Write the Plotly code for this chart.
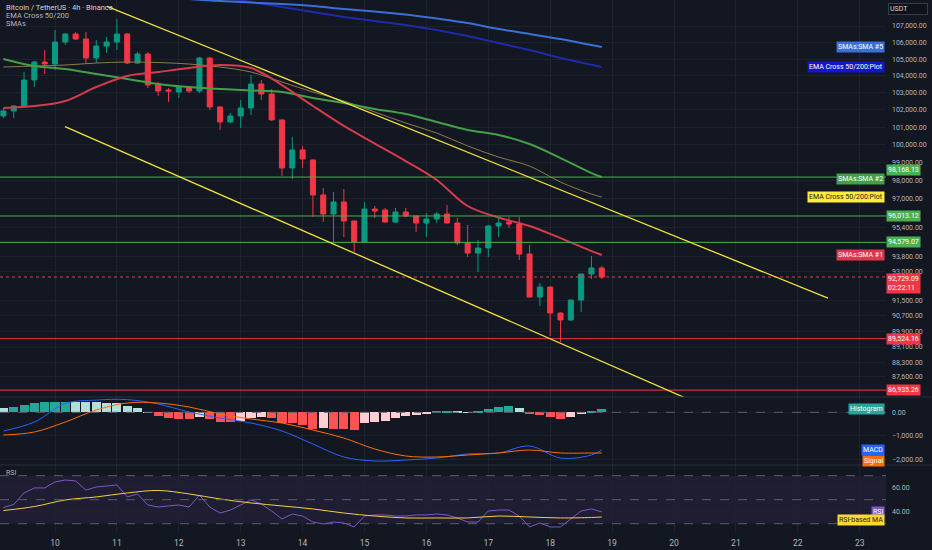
import math
import pandas as pd
import plotly.graph_objects as go
from plotly.subplots import make_subplots

# 4h candles, BTCUSDT (Binance)
times = pd.date_range("2025-11-09 04:00", periods=59, freq="4h")

opens = [101650, 101940, 102231, 103755, 104825, 104706, 106027, 106513, 106209, 105064,
         105786, 106027, 106513, 104765, 105304, 103459, 103166, 103048, 103342, 103107,
         105064, 102173, 101303, 101650, 102115, 103518, 102931, 101419, 98679, 99699,
         99131, 97169, 96121, 96782, 95738, 94598, 96395, 96341, 95684, 96231,
         96011, 95629, 95847, 96121, 95629, 94544, 94006, 94274, 95466, 95684,
         95575, 93952, 91676, 92200, 90843, 90481, 91519, 92887, 93206]
highs = [102115, 102290, 104229, 104885, 105545, 106756, 106573, 106634, 106634, 106149,
         106330, 107428, 106573, 105425, 105425, 103637, 103283, 103459, 103400, 105124,
         105124, 102200, 101824, 102581, 104051, 103755, 103224, 101450, 100441, 99927,
         99160, 97557, 97335, 97502, 95760, 96782, 96561, 96451, 96451, 96451,
         96040, 96176, 96231, 96613, 95902, 95520, 94706, 95520, 95902, 95956,
         95956, 94436, 92411, 92230, 90870, 91540, 92900, 93845, 93311]
lows = [101534, 101534, 102115, 103342, 104110, 104349, 105847, 106149, 104706, 104765,
        105365, 105545, 104706, 104706, 103283, 102814, 102464, 102697, 102990, 102990,
        101998, 100842, 101245, 100957, 101708, 102581, 101361, 98228, 98060, 98679,
        95956, 95684, 94598, 94867, 94059, 94598, 95902, 95650, 95629, 95956,
        95139, 94867, 95629, 95600, 94436, 93792, 92993, 93792, 94867, 95357,
        93632, 91650, 91206, 89660, 89354, 90450, 90894, 92621, 92621]
closes = [101940, 102231, 103755, 104825, 104706, 106027, 106513, 106209, 105064, 105786,
          106027, 106513, 104765, 105304, 103459, 103107, 103107, 103342, 103107, 105064,
          102173, 101303, 101650, 102115, 103518, 102931, 101419, 98679, 99699, 99188,
          97169, 96121, 96782, 95738, 94598, 96395, 96286, 95684, 96231, 96011,
          95629, 95847, 96121, 95629, 94544, 94006, 94274, 95466, 95629, 95575,
          93952, 91676, 92200, 90843, 90481, 91519, 92887, 93206, 92729.09]

# moving averages read every third candle
ma_idx = list(range(0, 58, 3)) + [58]
sma1 = [102115, 102231, 102523, 103342, 103992, 104229, 104467, 104647, 104467, 103459, 102231,
        101072, 100062, 99069, 98001, 96561, 95929, 95466, 94812, 94111, 93898]
sma2 = [105004, 104586, 104407, 104110, 103814, 103518, 103342, 103224, 103137, 103048, 102697,
        102402, 102053, 101762, 101303, 100842, 100549, 100034, 99239, 98393, 98172]
ema50 = [104526, 104586, 104647, 104765, 104825, 104795, 104706, 104526, 104229, 103637, 103048,
         102523, 101878, 101240, 100664, 99927, 99295, 98787, 97889, 97221, 97055]
blue_idx = list(range(18, 58, 3)) + [58]
sma5 = [108661, 108537, 108445, 108352, 108228, 108043, 107889, 107704, 107459, 107183,
        106817, 106513, 106209, 105847, 105726]
ema200 = [109095, 108785, 108476, 108166, 107827, 107551, 107306, 107061, 106756, 106392,
          105967, 105545, 105064, 104647, 104526]

hist = [170, 213, 311, 400, 430, 445, 455, 452, 450, 445,
        409, 383, 268, 170, 10, -157, -255, -285, -298, -187,
        -285, -400, -405, -357, -255, -187, -255, -442, -468, -540,
        -700, -652, -723, -730, -752, -468, -425, -369, -255, -156,
        -113, -71, 71, 75, 28, 5, 14, 128, 213, 270,
        170, -71, -113, -213, -284, -184, -71, 71, 142]
macd = [-796, -413, 374, 520, 540, 353, 13, -243, -455, -796, -1349,
        -1902, -2072, -2030, -1944, -1774, -1731, -1434, -1944, -1817, -1604]
signal = [-966, -838, -413, 98, 396, 396, 226, -72, -285, -455, -753,
          -1094, -1562, -1859, -1902, -1817, -1731, -1604, -1731, -1731, -1731]

rsi = [43.5, 46, 55.6, 59.8, 59.8, 64.8, 66.4, 65.6, 58, 60.6,
       61.4, 62.3, 52.3, 54.8, 45.6, 43.9, 44.8, 45.6, 43.9, 53.9,
       43.9, 38.9, 41.4, 45.6, 49.8, 46.4, 40.6, 34, 38.1, 36.4,
       31.4, 29.8, 31.4, 30.6, 27.3, 36.4, 37.3, 37.3, 36.4, 36.4,
       37.3, 37.3, 38.1, 37.3, 34.8, 31.4, 31.4, 40.6, 41.4, 41.4,
       36.4, 27.3, 30.6, 27.3, 27.3, 34, 40.6, 42.3, 39.8]
rsi_ma = [41, 44.3, 49.8, 52.3, 55.6, 57.7, 54.8, 50.6, 47.3, 44.8, 42.3,
          38.9, 36.4, 34.8, 34.8, 34.8, 36.4, 35.6, 34.8, 35.2, 35.6]

levels_green = [98168.13, 96013.12, 94579.07]
levels_red = [89524.16, 86935.26]
last_price = 92729.09
countdown = "02:22:11"

upper_x = ["2025-11-10 20:10", "2025-11-22 11:43"]
upper_y = [108210, 91620]
lower_x = ["2025-11-10 03:53", "2025-11-20 06:12"]
lower_y = [101030, 86450]

# ticks hidden under the level tags (96,200 / 94,600 / 92,200) left out
price_ticks = [107000, 106000, 105000, 104000, 103000, 102000, 101000, 100000, 99000, 98000,
               97000, 95400, 93800, 93000, 91500, 90700, 89900,
               89100, 88300, 87600]
day_ticks = list(range(10, 24))

bg = "#131722"
grid = "#1e222d"
txt = "#b2b5be"
up = "#089981"
down = "#f23645"
font = "Roboto"

base = pd.Timestamp("2025-11-10")
x_start = base - pd.Timedelta(days=55 / 61.9)
x_end = base + pd.Timedelta(days=831 / 61.9)

fig = make_subplots(rows=3, cols=1, shared_xaxes=True, vertical_spacing=0,
                    row_heights=[397, 68, 67])

fig.add_trace(go.Candlestick(
    x=times, open=opens, high=highs, low=lows, close=closes,
    increasing=dict(line=dict(color=up, width=1), fillcolor=up),
    decreasing=dict(line=dict(color=down, width=1), fillcolor=down),
    whiskerwidth=0, showlegend=False, hoverinfo="skip"), row=1, col=1)

ma_t = [times[i] for i in ma_idx]
blue_t = [times[i] for i in blue_idx]
fig.add_trace(go.Scatter(x=blue_t, y=ema200, mode="lines", line=dict(color="#1f2ba6", width=2)), row=1, col=1)
fig.add_trace(go.Scatter(x=blue_t, y=sma5, mode="lines", line=dict(color="#3b6fd8", width=2), line_shape="spline"), row=1, col=1)
fig.add_trace(go.Scatter(x=ma_t, y=ema50, mode="lines", line=dict(color="#8c7b4a", width=1), line_shape="spline"), row=1, col=1)
fig.add_trace(go.Scatter(x=ma_t, y=sma2, mode="lines", line=dict(color="#43a047", width=2), line_shape="spline"), row=1, col=1)
fig.add_trace(go.Scatter(x=ma_t, y=sma1, mode="lines", line=dict(color="#d63b4b", width=2), line_shape="spline"), row=1, col=1)

for lv in levels_green:
    fig.add_trace(go.Scatter(x=[x_start, x_end], y=[lv, lv], mode="lines",
                             line=dict(color="#4caf50", width=1)), row=1, col=1)
for lv in levels_red:
    fig.add_trace(go.Scatter(x=[x_start, x_end], y=[lv, lv], mode="lines",
                             line=dict(color="#f23645", width=1)), row=1, col=1)
fig.add_trace(go.Scatter(x=[x_start, x_end], y=[last_price, last_price], mode="lines",
                         line=dict(color="#f23645", width=1, dash="dot")), row=1, col=1)

fig.add_trace(go.Scatter(x=upper_x, y=upper_y, mode="lines", line=dict(color="#f2e23a", width=1.3)), row=1, col=1)
fig.add_trace(go.Scatter(x=lower_x, y=lower_y, mode="lines", line=dict(color="#f2e23a", width=1.3)), row=1, col=1)

# MACD pane
hist_colors = []
prev = None
for v in hist:
    rising = prev is not None and v > prev
    if v >= 0:
        hist_colors.append("#26a69a" if rising else "#b2dfdb")
    else:
        hist_colors.append("#ffcdd2" if rising else "#ff5252")
    prev = v
fig.add_trace(go.Bar(x=times, y=hist, marker_color=hist_colors, marker_line_width=0,
                     width=4 * 3600 * 1000 * 0.88), row=2, col=1)
fig.add_trace(go.Scatter(x=ma_t, y=macd, mode="lines", line=dict(color="#2962ff", width=1), line_shape="spline"), row=2, col=1)
fig.add_trace(go.Scatter(x=ma_t, y=signal, mode="lines", line=dict(color="#ff6d00", width=1), line_shape="spline"), row=2, col=1)

# RSI pane
fig.add_trace(go.Scatter(x=times, y=rsi, mode="lines", line=dict(color="#7e57c2", width=1)), row=3, col=1)
fig.add_trace(go.Scatter(x=ma_t, y=rsi_ma, mode="lines", line=dict(color="#f4cf3e", width=1), line_shape="spline"), row=3, col=1)

fig.add_shape(type="rect", xref="x3 domain", x0=0, x1=1, yref="y3", y0=30, y1=70,
              fillcolor="rgba(126,87,194,0.1)", line_width=0, layer="below")
for lvl in [70, 50, 30]:
    fig.add_shape(type="line", xref="x3 domain", x0=0, x1=1, yref="y3", y0=lvl, y1=lvl,
                  line=dict(color="#5d606b", width=1, dash="dash"))
fig.add_shape(type="line", xref="x2 domain", x0=0, x1=1, yref="y2", y0=0, y1=0,
              line=dict(color="#5d606b", width=1, dash="dash"))
for py in [397 / 532, 465 / 532]:
    fig.add_shape(type="line", xref="paper", x0=0, x1=1.06, yref="paper", y0=1 - py, y1=1 - py,
                  line=dict(color="#2a2e39", width=1))

fig.update_xaxes(range=[x_start, x_end], showgrid=True, gridcolor=grid, gridwidth=1,
                 tickvals=[pd.Timestamp(2025, 11, d) for d in day_ticks],
                 ticktext=[str(d) for d in day_ticks], tickfont=dict(family=font, size=8.5, color=txt),
                 zeroline=False, showline=False, ticks="", ticklabelstandoff=4,
                 rangeslider_visible=False)

fig.update_yaxes(type="log", range=[math.log10(86595), math.log10(108600)], side="right",
                 tickvals=price_ticks, ticktext=[f"{v:,.2f}" for v in price_ticks],
                 showgrid=True, gridcolor=grid, zeroline=False, ticks="", ticklabelstandoff=5,
                 tickfont=dict(family=font, size=7, color=txt), row=1, col=1)
fig.update_yaxes(range=[-2242, 651], side="right", tickvals=[0, -1000, -2000],
                 ticktext=["0.00", "\u22121,000.00", "\u22122,000.00"],
                 showgrid=True, gridcolor=grid, zeroline=False, ticks="", ticklabelstandoff=5,
                 tickfont=dict(family=font, size=7, color=txt), row=2, col=1)
fig.update_yaxes(range=[23.1, 78.9], side="right", tickvals=[60, 40],
                 ticktext=["60.00", "40.00"],
                 showgrid=True, gridcolor=grid, zeroline=False, ticks="", ticklabelstandoff=5,
                 tickfont=dict(family=font, size=7, color=txt), row=3, col=1)


def axis_tag(text, y, yref, color, fg="white", yshift=0, yanchor="middle"):
    fig.add_annotation(x=1, xref="paper", xanchor="left", y=y, yref=yref, yanchor=yanchor,
                       yshift=yshift, text=text, showarrow=False, bgcolor=color, borderpad=1,
                       align="left", font=dict(family=font, size=7, color=fg))


def line_tag(text, y, yref, color, fg="white", yshift=0):
    fig.add_annotation(x=1, xref="paper", xanchor="right", xshift=-1, y=y, yref=yref,
                       yanchor="middle", yshift=yshift, text=text, showarrow=False,
                       bgcolor=color, borderpad=1, font=dict(family=font, size=7, color=fg))


# the top green tag sits a little above its line, as on the reference axis
for lv, shift in zip(levels_green, [7, 0, 0]):
    axis_tag(f"{lv:,.2f}", math.log10(lv), "y", "#4caf50", yshift=shift)
for lv in levels_red:
    axis_tag(f"{lv:,.2f}", math.log10(lv), "y", "#f23645")
axis_tag(f"{last_price:,.2f}<br>{countdown}", math.log10(last_price), "y", "#f23645",
         yanchor="top", yshift=4)

line_tag("SMAs:SMA #5", math.log10(sma5[-1]), "y", "#3b6fd8")
line_tag("EMA Cross 50/200:Plot", math.log10(ema200[-1]), "y", "#1414c8")
line_tag("SMAs:SMA #2", math.log10(sma2[-1]), "y", "#43a047", yshift=-2)
line_tag("EMA Cross 50/200:Plot", math.log10(ema50[-1]), "y", "#ffeb3b", fg="#131722")
line_tag("SMAs:SMA #1", math.log10(sma1[-1]), "y", "#e0364a")
line_tag("Histogram", hist[-1], "y2", "#26a69a")
line_tag("MACD", macd[-1], "y2", "#2962ff")
line_tag("Signal", signal[-1], "y2", "#ff6d00", yshift=-8)
line_tag("RSI", rsi[-1], "y3", "#7e57c2")
line_tag("RSI-based MA", rsi_ma[-1], "y3", "#fdd835", fg="#131722", yshift=-3)

fig.add_annotation(x=1, xref="paper", xanchor="left", xshift=2, y=1, yref="paper",
                   yanchor="top", yshift=-3, text="USDT", showarrow=False, width=36,
                   align="left", bgcolor="#0f121a", bordercolor="#363a45", borderwidth=1,
                   borderpad=1, font=dict(family=font, size=7, color="#d1d4dc"))

legend_lines = ["Bitcoin / TetherUS \u00b7 4h \u00b7 Binance", "EMA Cross 50/200", "SMAs"]
for k, t in enumerate(legend_lines):
    fig.add_annotation(x=0, xref="paper", xanchor="left", xshift=4, y=1, yref="paper",
                       yanchor="middle", yshift=-(7.3 + 8.1 * k), text=t, showarrow=False,
                       font=dict(family=font, size=7.5, color="#d1d4dc" if k == 0 else txt))
fig.add_annotation(x=0, xref="paper", xanchor="left", xshift=4, y=1 - 473 / 532, yref="paper",
                   yanchor="middle", text="RSI", showarrow=False,
                   font=dict(family=font, size=7, color=txt))

fig.update_layout(width=932, height=550, margin=dict(l=0, r=46, t=0, b=18),
                  paper_bgcolor=bg, plot_bgcolor=bg, showlegend=False, bargap=0,
                  hovermode=False)

# page body margin off so the 932x550 figure fills the window exactly
fig.write_html("out.html", config={"displayModeBar": False},
               post_script="document.body.style.margin='0px';document.body.style.background='#131722';")
